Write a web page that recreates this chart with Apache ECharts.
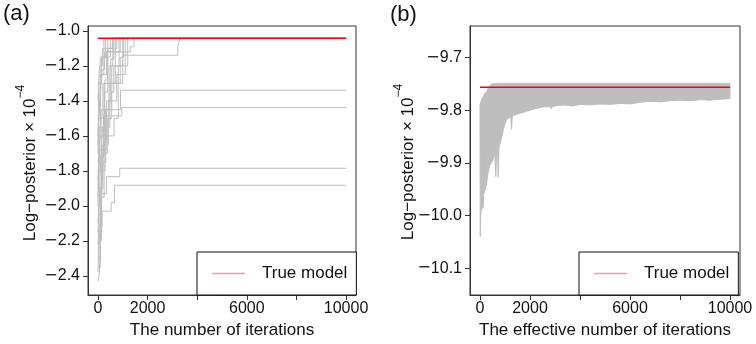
<!DOCTYPE html>
<html>
<head>
<meta charset="utf-8">
<script src="https://cdn.jsdelivr.net/npm/echarts@6/dist/echarts.min.js"></script>
<style>html,body{margin:0;padding:0;background:#fff}#c{width:756px;height:344px}</style>
</head>
<body>
<div id="c"></div>
<script>
// ---------- DATA ----------
// Panel (a): best-so-far log-posterior traces (x = iteration, y = log-posterior x 1e-4)
const a01 = [[0,-2.43],[60,-2.38],[120,-2.10],[200,-1.75],[320,-1.45],[450,-1.20],[600,-1.043],[10000,-1.043]];
const a02 = [[0,-2.30],[90,-2.05],[170,-1.70],[260,-1.35],[400,-1.043],[10000,-1.043]];
const a03 = [[0,-2.22],[40,-2.12],[170,-2.03],[535,-1.98],[667,-1.882],[10000,-1.882]];
const a04 = [[0,-2.05],[100,-1.93],[345,-1.833],[880,-1.785],[10000,-1.785]];
const a05 = [[0,-1.95],[70,-1.72],[225,-1.486],[963,-1.437],[10000,-1.437]];
const a06 = [[0,-1.85],[80,-1.60],[300,-1.45],[910,-1.339],[10000,-1.339]];
const a07 = [[0,-1.90],[60,-1.55],[250,-1.30],[1000,-1.139],[3220,-1.091],[3300,-1.043],[10000,-1.043]];
const a08 = [[0,-1.70],[50,-1.45],[130,-1.25],[350,-1.12],[1300,-1.091],[1450,-1.043],[10000,-1.043]];
const a09 = [[0,-2.00],[30,-1.80],[110,-1.50],[200,-1.30],[700,-1.043],[10000,-1.043]];
const a10 = [[0,-1.60],[40,-1.30],[150,-1.15],[500,-1.043],[10000,-1.043]];
const a11 = [[0,-2.15],[80,-1.90],[200,-1.65],[420,-1.40],[760,-1.25],[1100,-1.043],[10000,-1.043]];
const a12 = [[0,-1.75],[60,-1.68],[330,-1.60],[650,-1.50],[820,-1.20],[1200,-1.043],[10000,-1.043]];
const a13 = [[0,-1.50],[100,-1.25],[240,-1.043],[10000,-1.043]];
const a14 = [[0,-2.35],[100,-2.00],[160,-1.80],[290,-1.55],[480,-1.30],[900,-1.15],[1020,-1.043],[10000,-1.043]];
const a15 = [[0,-1.40],[60,-1.20],[180,-1.10],[760,-1.043],[10000,-1.043]];
const a16 = [[0,-1.80],[130,-1.45],[560,-1.20],[1000,-1.043],[10000,-1.043]];
const a17 = [[0,-1.30],[90,-1.15],[310,-1.043],[10000,-1.043]];
const a18 = [[0,-2.25],[50,-2.20],[140,-1.95],[250,-1.70],[380,-1.50],[540,-1.35],[640,-1.20],[850,-1.043],[10000,-1.043]];
const a19 = [[0,-2.38],[20,-2.28],[70,-2.15],[150,-1.88],[230,-1.62],[350,-1.40],[520,-1.16],[640,-1.043],[10000,-1.043]];
const a20 = [[0,-2.10],[45,-1.98],[110,-1.75],[190,-1.55],[280,-1.28],[380,-1.10],[580,-1.043],[10000,-1.043]];
const a21 = [[0,-1.65],[25,-1.52],[90,-1.38],[170,-1.22],[270,-1.12],[900,-1.043],[10000,-1.043]];
const tracesA = [a01,a02,a03,a04,a05,a06,a07,a08,a09,a10,a11,a12,a13,a14,a15,a16,a17,a18,a19,a20,a21];
const trueA = [[0,-1.042],[10000,-1.042]];

// Panel (b): envelope of the sampled chains (effective iterations)
const bandUpper = [[0,-9.790],[30,-9.785],[80,-9.778],[140,-9.774],[200,-9.768],[260,-9.765],[330,-9.758],[400,-9.753],[460,-9.750],[700,-9.749],[10000,-9.749]];
const bandLower = [[0,-9.800],[10,-10.040],[25,-10.000],[50,-9.990],[90,-9.985],[130,-9.985],[150,-9.960],[200,-9.950],[260,-9.940],[320,-9.920],[390,-9.905],[450,-9.900],[520,-9.895],[560,-9.880],[600,-9.890],[630,-9.926],[660,-9.885],[700,-9.875],[730,-9.927],[760,-9.870],[820,-9.860],[880,-9.850],[930,-9.837],[1000,-9.826],[1060,-9.818],[1150,-9.815],[1230,-9.812],[1260,-9.836],[1290,-9.812],[1350,-9.810],[1450,-9.808],[1600,-9.806],[1800,-9.803],[2000,-9.800],[2200,-9.797],[2500,-9.794],[2800,-9.793],[2850,-9.797],[2900,-9.793],[3100,-9.791],[3400,-9.790],[3700,-9.792],[4000,-9.789],[4400,-9.790],[4800,-9.788],[5200,-9.789],[5600,-9.787],[6000,-9.788],[6400,-9.785],[6800,-9.783],[7200,-9.784],[7600,-9.782],[8000,-9.781],[8400,-9.782],[8800,-9.780],[9200,-9.781],[9600,-9.779],[10000,-9.778]];
const trueB = [[0,-9.7563],[10000,-9.7563]];

// Tick values
const xTicks = [0,2000,4000,6000,8000,10000];
const xLabels = [0,2000,6000,10000];
const yTicksA = [-2.4,-2.2,-2.0,-1.8,-1.6,-1.4,-1.2,-1.0];
const yTicksB = [-10.1,-10.0,-9.9,-9.8,-9.7];

// ---------- CHART ----------
const FONT = "'Liberation Sans', Arial, Helvetica, sans-serif";
const INK = '#111';
const fmtY = v => (v < 0 ? '{m|\u2212}' : '') + Math.abs(v).toFixed(1);

function xAxisDef(grid, name) {
  return {
    type: 'value', gridIndex: grid, min: -400, max: 10400,
    name: name, nameLocation: 'middle', nameGap: 27,
    nameTextStyle: {fontFamily: FONT, fontSize: 17, color: INK},
    axisLine: {show: true, onZero: false, lineStyle: {color: '#333', width: 1}},
    axisTick: {show: true, inside: false, length: 5, customValues: xTicks, lineStyle: {color: '#333'}},
    axisLabel: {customValues: xLabels, formatter: v => String(v), fontFamily: FONT, fontSize: 16, color: INK, margin: 6},
    splitLine: {show: false}
  };
}
function yAxisDef(grid, min, max, ticks) {
  return {
    type: 'value', gridIndex: grid, min: min, max: max,
    axisLine: {show: true, onZero: false, lineStyle: {color: '#333', width: 1}},
    axisTick: {show: true, inside: false, length: 5, customValues: ticks, lineStyle: {color: '#333'}},
    axisLabel: {
      customValues: ticks, formatter: fmtY, fontFamily: FONT, fontSize: 16, color: INK, margin: 8,
      rich: {m: {fontFamily: "'DejaVu Sans', sans-serif", fontSize: 16, color: INK}}
    },
    splitLine: {show: false}
  };
}
function legendDef(left) {
  return {
    data: [{name: 'True model', icon: 'rect'}], left: left, top: 252, orient: 'horizontal',
    backgroundColor: '#fff', borderColor: '#111', borderWidth: 1, borderRadius: 0,
    padding: [13, 9, 13, 15], itemWidth: 33, itemHeight: 1.6,
    itemStyle: {color: '#F29AAA', borderWidth: 0},
    textStyle: {fontFamily: FONT, fontSize: 17, color: INK, padding: [0, 0, 0, 12]},
    selectedMode: false
  };
}

const series = [];
tracesA.forEach(t => series.push({
  type: 'line', xAxisIndex: 0, yAxisIndex: 0, data: t, step: 'end', symbol: 'none',
  lineStyle: {color: '#BEBEBE', width: 1}, silent: true, z: 2
}));
series.push({
  name: 'True model', type: 'line', xAxisIndex: 0, yAxisIndex: 0, data: trueA, symbol: 'none',
  lineStyle: {color: '#FF0000', width: 1.5}, itemStyle: {color: '#FF0000'}, z: 3
});
series.push({
  type: 'custom', xAxisIndex: 1, yAxisIndex: 1, data: [[0, -9.75]], silent: true, z: 2,
  renderItem: function (params, api) {
    const pts = bandUpper.map(p => api.coord(p))
      .concat(bandLower.slice().reverse().map(p => api.coord(p)));
    return {type: 'polygon', shape: {points: pts}, style: {fill: '#BEBEBE', stroke: '#BEBEBE', lineWidth: 1}};
  }
});
series.push({
  name: 'True model', type: 'line', xAxisIndex: 1, yAxisIndex: 1, data: trueB, symbol: 'none',
  lineStyle: {color: '#FF0000', width: 1.5}, itemStyle: {color: '#FF0000'}, z: 3
});

function yTitle(x, y) {
  return {
    type: 'text', x: x, y: y, rotation: Math.PI / 2,
    style: {
      text: '{a|Log\u2212posterior \u00d7 10}{s|\u22124}',
      align: 'center', verticalAlign: 'middle', fill: INK, font: '17px ' + FONT,
      rich: {
        a: {fontFamily: FONT, fontSize: 17, lineHeight: 24, verticalAlign: 'bottom', fill: INK},
        s: {fontFamily: FONT, fontSize: 12, lineHeight: 24, verticalAlign: 'top', fill: INK}
      }
    }
  };
}

const option = {
  animation: false,
  backgroundColor: '#fff',
  grid: [
    {left: 88, top: 26, width: 268, height: 269, show: true, borderColor: '#333', borderWidth: 1, backgroundColor: 'transparent'},
    {left: 470, top: 26, width: 270, height: 269, show: true, borderColor: '#333', borderWidth: 1, backgroundColor: 'transparent'}
  ],
  xAxis: [xAxisDef(0, 'The number of iterations'), xAxisDef(1, 'The effective number of iterations')],
  yAxis: [yAxisDef(0, -2.509, -0.972, yTicksA), yAxisDef(1, -10.151, -9.640, yTicksB)],
  legend: [legendDef(197), legendDef(579)],
  series: series,
  graphic: [
    {type: 'text', x: 3, y: 14, style: {text: '(a)', font: '22px ' + FONT, fill: INK, verticalAlign: 'middle'}},
    {type: 'text', x: 390, y: 15, style: {text: '(b)', font: '22px ' + FONT, fill: INK, verticalAlign: 'middle'}},
    yTitle(27, 163),
    yTitle(405, 162)
  ]
};
const chart = echarts.init(document.getElementById('c'), null, {renderer: 'canvas'});
chart.setOption(option);
</script>
</body>
</html>
